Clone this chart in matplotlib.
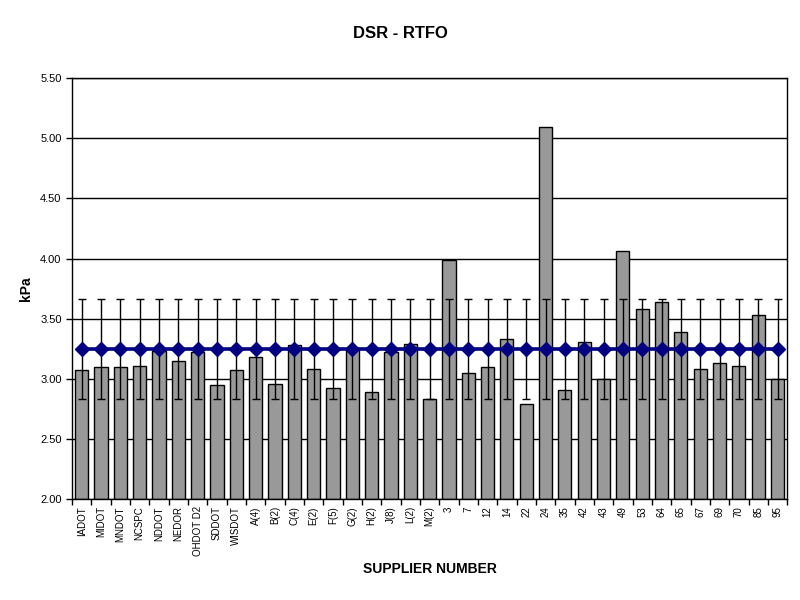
import numpy as np
import matplotlib.pyplot as plt
from matplotlib.ticker import FixedLocator

# ---------------------------------------------------------------------------
# Data
# ---------------------------------------------------------------------------
suppliers = [
    "IADOT", "MIDOT", "MNDOT", "NCSPC", "NDDOT", "NEDOR", "OHDOT D2", "SDDOT",
    "WISDOT", "A(4)", "B(2)", "C(4)", "E(2)", "F(5)", "G(2)", "H(2)", "J(8)",
    "L(2)", "M(2)", "3", "7", "12", "14", "22", "24", "35", "42", "43", "49",
    "53", "64", "65", "67", "69", "70", "85", "95",
]
dsr_kpa = [
    3.07, 3.095, 3.095, 3.11, 3.235, 3.15, 3.22, 2.945,
    3.07, 3.18, 2.955, 3.28, 3.085, 2.92, 3.26, 2.89, 3.22,
    3.29, 2.83, 3.99, 3.045, 3.095, 3.33, 2.79, 5.09, 2.91, 3.31, 3.00, 4.06,
    3.58, 3.64, 3.39, 3.08, 3.135, 3.11, 3.53, 3.00,
]
grand_mean = 3.245
mean_err = 0.415

y_ticks = [2.00, 2.50, 3.00, 3.50, 4.00, 4.50, 5.00, 5.50]

# ---------------------------------------------------------------------------
# Plot
# ---------------------------------------------------------------------------
plt.rcParams["font.family"] = ["Liberation Sans", "DejaVu Sans"]

fig = plt.figure(figsize=(8, 6), dpi=100)
ax = fig.add_axes([0.09, 0.168, 0.894, 0.702])

x = np.arange(len(suppliers))
means = np.full(len(suppliers), grand_mean)

ax.bar(x, np.array(dsr_kpa) - 2.0, bottom=2.0, width=0.68,
       color="#999999", edgecolor="black", linewidth=1.0, zorder=2)
ax.errorbar(x, means, yerr=mean_err, fmt="none", ecolor="black",
            elinewidth=1.0, capsize=3, capthick=1.0, zorder=3)
ax.plot(x, means, color="#000080", linewidth=2.6, marker="D",
        markersize=7.5, markerfacecolor="#000080", markeredgecolor="#000080",
        zorder=4)

ax.set_xlim(-0.5, len(suppliers) - 0.5)
ax.set_ylim(2.0, 5.5)
ax.set_yticks(y_ticks)
ax.set_yticklabels([f"{v:.2f}" for v in y_ticks], fontsize=8)
ax.grid(axis="y", color="black", linewidth=1.0, zorder=0)

# category labels centred, tick marks between categories
ax.set_xticks(x)
ax.set_xticklabels(suppliers, rotation=90, fontsize=7)
ax.tick_params(axis="x", which="major", length=0, pad=5)
ax.xaxis.set_minor_locator(FixedLocator(np.arange(-0.5, len(suppliers), 1.0)))
ax.tick_params(axis="x", which="minor", length=4, width=1, direction="out")
ax.tick_params(axis="y", length=4, width=1, direction="out")

for s in ax.spines.values():
    s.set_linewidth(1.0)
    s.set_color("black")

ax.set_ylabel("kPa", fontsize=10, fontweight="bold")
ax.yaxis.set_label_coords(-0.055, 0.5)
ax.set_xlabel("SUPPLIER NUMBER", fontsize=10, fontweight="bold")
ax.xaxis.set_label_coords(0.5, -0.15)
fig.text(0.5, 0.945, "DSR - RTFO", ha="center", va="center",
         fontsize=12, fontweight="bold")

fig.savefig("out.png", dpi=100)
